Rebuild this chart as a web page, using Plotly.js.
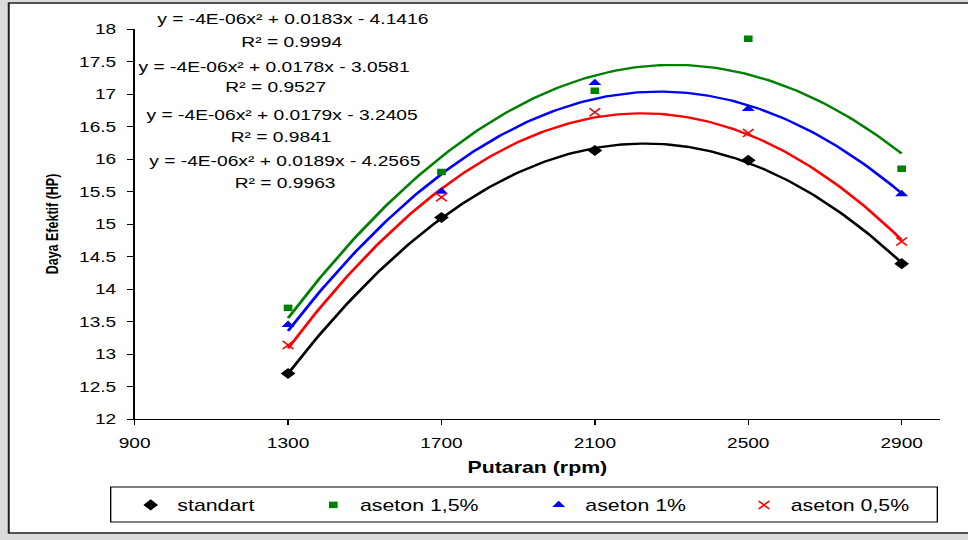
<!DOCTYPE html>
<html><head><meta charset="utf-8">
<script src="https://cdn.plot.ly/plotly-3.0.1.min.js"></script>
<style>
html,body{margin:0;padding:0;background:#dcdcdc;width:968px;height:540px;overflow:hidden;}
#wrap{position:absolute;left:0;top:0;width:726px;height:540px;transform:scaleX(1.333333);transform-origin:0 0;}
#chart{width:726px;height:540px;}
</style></head><body>
<div id="wrap"><div id="chart"></div></div>
<script>
// ---- data ----
const rpm = [1300, 1700, 2100, 2500, 2900];
const standart   = [12.70, 15.10, 16.13, 15.98, 14.39];
const aseton15   = [13.71, 15.80, 17.05, 17.85, 15.85];
const aseton1    = [13.45, 15.50, 17.17, 16.77, 15.46];
const aseton05   = [13.14, 15.41, 16.72, 16.40, 14.73];
const seriesNames = ['standart', 'aseton 1,5%', 'aseton 1%', 'aseton 0,5%'];
const xTickVals = [900, 1300, 1700, 2100, 2500, 2900];
const equations = [
  'y = -4E-06x\u00B2 + 0.0183x - 4.1416',
  'R\u00B2 = 0.9994',
  'y = -4E-06x\u00B2 + 0.0178x - 3.0581',
  'R\u00B2 = 0.9527',
  'y = -4E-06x\u00B2 + 0.0179x - 3.2405',
  'R\u00B2 = 0.9841',
  'y = -4E-06x\u00B2 + 0.0189x - 4.2565',
  'R\u00B2 = 0.9963'
];

// ---- styling / layout ----
const FONT = 'Liberation Sans, Arial, sans-serif';
const colors = ['#000000', '#008000', '#0000FF', '#FF0000'];
const symbols = ['diamond', 'square', 'triangle-up', 'x-thin-open'];
const sizes = [8.5, 6.5, 8.5, 8];
const legendWidths = [92, 124, 109, 92];
const W = 726, H = 540;
const L = 100.5, R = 705, T = 29, B = 419;
const PW = R - L, PH = B - T;
const px = x => (x - L) / PW;
const py = y => (B - y) / PH;

// least-squares quadratic trendline (as in the spreadsheet)
function quadFit(xs, ys) {
  const n = xs.length;
  const m = xs.reduce((a, b) => a + b, 0) / n;
  const s = 400;
  let S = [0, 0, 0, 0, 0], Ty = [0, 0, 0];
  xs.forEach((x, i) => {
    const u = (x - m) / s;
    for (let k = 0; k < 5; k++) S[k] += Math.pow(u, k);
    for (let k = 0; k < 3; k++) Ty[k] += Math.pow(u, k) * ys[i];
  });
  const A = [[S[0], S[1], S[2]], [S[1], S[2], S[3]], [S[2], S[3], S[4]]];
  const det = M => M[0][0]*(M[1][1]*M[2][2]-M[1][2]*M[2][1]) - M[0][1]*(M[1][0]*M[2][2]-M[1][2]*M[2][0]) + M[0][2]*(M[1][0]*M[2][1]-M[1][1]*M[2][0]);
  const D = det(A);
  const coef = [0, 1, 2].map(c => {
    const Mc = A.map((row, r) => row.map((v, j) => j === c ? Ty[r] : v));
    return det(Mc) / D;
  });
  return x => { const u = (x - m) / s; return coef[0] + coef[1]*u + coef[2]*u*u; };
}

const series = [standart, aseton15, aseton1, aseton05];
const traces = [];
series.forEach((ys, i) => {
  const f = quadFit(rpm, ys);
  const xs = [];
  for (let x = rpm[0]; x <= rpm[rpm.length - 1]; x += 10) xs.push(x);
  traces.push({
    x: xs, y: xs.map(f), mode: 'lines', showlegend: false, hoverinfo: 'skip',
    line: {color: colors[i], width: 2.3}
  });
});
series.forEach((ys, i) => {
  const mk = {color: colors[i], symbol: symbols[i], size: sizes[i]};
  if (symbols[i] === 'x-thin-open') mk.line = {color: colors[i], width: 1.4};
  traces.push({
    x: rpm, y: ys, mode: 'markers', name: seriesNames[i],
    legendwidth: legendWidths[i], marker: mk
  });
});

const eqY = [19, 42, 67, 87, 115, 137, 161, 183];
const eqX = [219, 218.3, 205.5, 206.3, 210.8, 210.8, 213, 213.8];
const annotations = equations.map((t, i) => ({
  text: t, xref: 'paper', yref: 'paper', x: px(eqX[i]), y: py(eqY[i]),
  xanchor: 'center', yanchor: 'middle', showarrow: false,
  font: {family: FONT, size: 14.4, color: '#000'}
}));

const layout = {
  width: W, height: H,
  margin: {l: L, r: W - R, t: T, b: H - B, pad: 0},
  paper_bgcolor: 'rgba(0,0,0,0)', plot_bgcolor: 'rgba(0,0,0,0)',
  font: {family: FONT, color: '#000'},
  showlegend: true,
  xaxis: {
    range: [900, 3000], tickvals: xTickVals, showgrid: false, zeroline: false,
    showline: true, linecolor: '#000', linewidth: 1, ticks: 'outside', ticklen: 5,
    tickcolor: '#000', tickwidth: 1, ticklabelstandoff: 6,
    tickfont: {family: FONT, size: 14.3, color: '#000'},
    title: {text: '<b>Putaran (rpm)</b>', standoff: 11, font: {family: FONT, size: 16, color: '#000'}}
  },
  yaxis: {
    range: [12, 18], tick0: 12, dtick: 0.5, showgrid: false, zeroline: false,
    showline: true, linecolor: '#000', linewidth: 1, ticks: 'outside', ticklen: 5,
    tickcolor: '#000', tickwidth: 1, ticklabelstandoff: 5,
    tickfont: {family: FONT, size: 14.3, color: '#000'},
    title: {text: '<b>Daya Efektif (HP)</b>', standoff: 12, font: {family: FONT, size: 12.5, color: '#000'}}
  },
  legend: {
    orientation: 'h', xref: 'container', yref: 'container',
    x: 93 / W, xanchor: 'left', y: 1 - 505 / H, yanchor: 'middle',
    bgcolor: 'rgba(0,0,0,0)', borderwidth: 0,
    font: {family: FONT, size: 16, color: '#000'}
  },
  shapes: [
    {type: 'rect', xref: 'paper', yref: 'paper', x0: px(6), x1: px(760), y0: py(533), y1: py(3),
     line: {color: '#222', width: 1.5}, fillcolor: '#ffffff', layer: 'below'},
    {type: 'rect', xref: 'paper', yref: 'paper', x0: px(82.5), x1: px(703), y0: py(522), y1: py(487),
     line: {color: '#000', width: 1}, fillcolor: 'rgba(0,0,0,0)', layer: 'below'}
  ],
  annotations: annotations
};

Plotly.newPlot('chart', traces, layout, {displayModeBar: false, staticPlot: true});
</script>
</body></html>
